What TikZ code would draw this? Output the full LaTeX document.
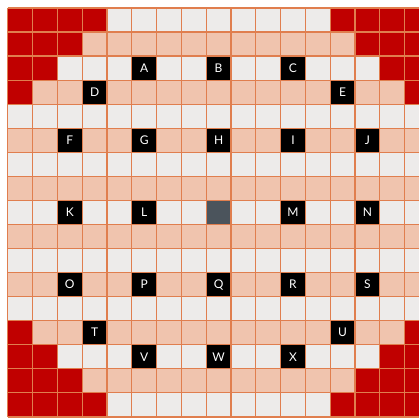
\documentclass[tikz,border=0pt]{standalone}
\usepackage{fontspec}
\setmainfont{Lato}
\definecolor{cellwhite}{RGB}{237,235,234}
\definecolor{cellpeach}{RGB}{240,196,174}
\definecolor{gridorange}{RGB}{224,126,78}
\definecolor{cornerred}{RGB}{192,0,0}
\definecolor{centerdark}{RGB}{75,84,92}
\tikzset{
  lettercell/.style={fill=black,text=white,inner sep=0pt,minimum width=24.8pt,minimum height=24.05pt,font=\fontsize{12}{12}\selectfont},
  gridline/.style={draw=gridorange,line width=1.3pt},
}
\begin{document}
\begin{tikzpicture}[x=1pt,y=-1pt]
\useasboundingbox (0,0) rectangle (419,418);
\fill[white] (0,0) rectangle (419,418);
\def\cw{24.8}
\def\ch{24.05}
\def\ox{7.8}
\def\oy{8}
\begin{scope}
\clip (0,0) rectangle (419,418);
% rows
\foreach \r in {0,...,16} {
  \pgfmathparse{mod(\r,2)==0 ? "cellwhite" : "cellpeach"}
  \edef\rc{\pgfmathresult}
  \fill[\rc] ({\ox},{\oy+\r*\ch}) rectangle ({\ox+17*\cw},{\oy+(\r+1)*\ch});
}
% red corners
\foreach \r in {0,...,3} {
  \pgfmathtruncatemacro{\cmax}{3-\r}
  \foreach \c in {0,...,\cmax} {
    \foreach \cc/\rr in {\c/\r, 16-\c/\r, \c/16-\r, 16-\c/16-\r} {
      \fill[cornerred] ({\ox+(\cc)*\cw},{\oy+(\rr)*\ch}) rectangle ++(\cw,\ch);
    }
  }
}
% center cell
\node[lettercell,fill=centerdark] (center) at ({\ox+8.5*\cw},{\oy+8.5*\ch}) {};
% letter cells
\foreach \l/\c/\r in {A/5/2,B/8/2,C/11/2,D/3/3,E/13/3,F/2/5,G/5/5,H/8/5,I/11/5,J/14/5,
  K/2/8,L/5/8,M/11/8,N/14/8,O/2/11,P/5/11,Q/8/11,R/11/11,S/14/11,T/3/13,U/13/13,V/5/14,W/8/14,X/11/14} {
  \node[lettercell] (\l) at ({\ox+(\c+0.5)*\cw},{\oy+(\r+0.5)*\ch}) {\l};
}
% grid lines
\foreach \k in {0,...,17} {
  \draw[gridline] ({\ox+\k*\cw},{\oy}) -- ({\ox+\k*\cw},{\oy+17*\ch});
  \draw[gridline] ({\ox},{\oy+\k*\ch}) -- ({\ox+17*\cw},{\oy+\k*\ch});
}
\end{scope}
\end{tikzpicture}
\end{document}
